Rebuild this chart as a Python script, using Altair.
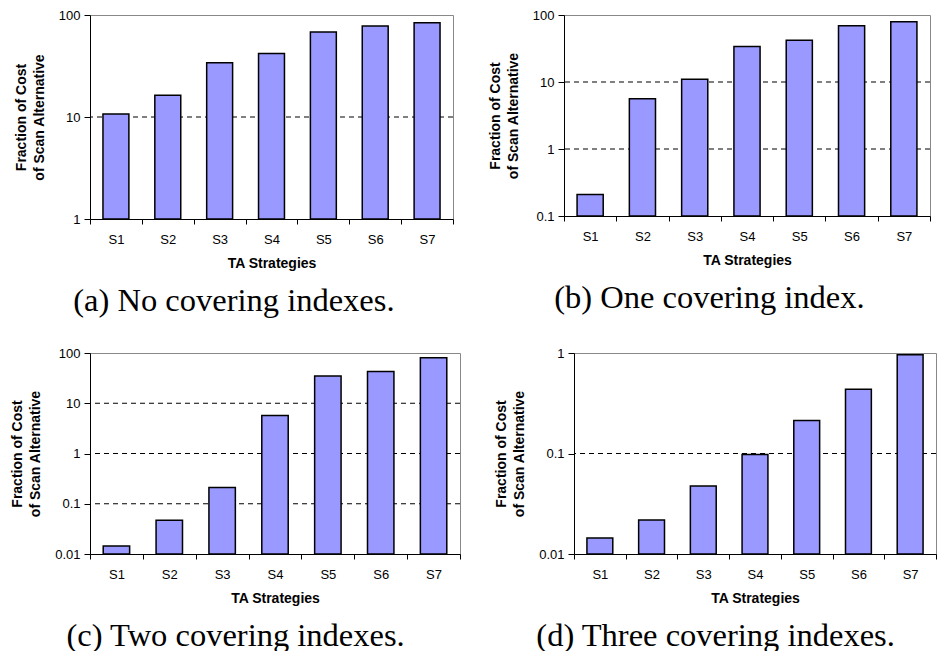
import altair as alt
import pandas as pd

strategies = ["S1", "S2", "S3", "S4", "S5", "S6", "S7"]

vals_a = [10.7, 16.3, 34, 42, 68, 78, 84]
vals_b = [0.21, 5.6, 11, 34, 42, 69, 79]
vals_c = [0.0144, 0.047, 0.21, 5.7, 35, 43, 80]
vals_d = [0.0144, 0.0218, 0.0475, 0.098, 0.213, 0.436, 0.96]

domain_a = [1, 100]
domain_b = [0.1, 100]
domain_c = [0.01, 100]
domain_d = [0.01, 1]

ticks_a = [1, 10, 100]
ticks_b = [0.1, 1, 10, 100]
ticks_c = [0.01, 0.1, 1, 10, 100]
ticks_d = [0.01, 0.1, 1]

grid_a = [10]
grid_b = [1, 10]
grid_c = [0.1, 1, 10]
grid_d = [0.1]

captions = ["(a) No covering indexes.", "(b) One covering index.",
            "(c) Two covering indexes.", "(d) Three covering indexes."]

y_title = ["Fraction of Cost", "of Scan Alternative"]
x_title = "TA Strategies"


def panel(vals, domain, ticks, grids, caption, W, H):
    lo, hi = domain
    yscale = alt.Scale(type="log", domain=domain, nice=False)
    yaxis = alt.Axis(values=ticks, format="~g", title=y_title, grid=False,
                     titleLineHeight=18, titlePadding=12)
    bars_df = pd.DataFrame({"s": strategies, "v": vals})
    grid_df = pd.DataFrame({"v": grids})
    gridlines = alt.Chart(grid_df).mark_rule(
        color="black", strokeDash=[5, 4], strokeWidth=1
    ).encode(y=alt.Y("v:Q", scale=yscale, axis=yaxis))
    bars = alt.Chart(bars_df).mark_bar(
        width=alt.RelativeBandSize(0.5), fill="#9999FF", stroke="black",
        strokeWidth=1.5
    ).encode(
        x=alt.X("s:N", sort=strategies,
                scale=alt.Scale(paddingInner=0, paddingOuter=0),
                axis=alt.Axis(title=x_title, tickBand="extent", labelAngle=0,
                              labelPadding=9, titlePadding=10)),
        y=alt.Y("v:Q", scale=yscale, axis=yaxis),
        y2=alt.datum(lo),
    )
    return alt.layer(gridlines, bars).properties(
        width=W, height=H,
        title=alt.TitleParams(text=caption, orient="bottom", anchor="middle",
                              frame="bounds", font="Liberation Serif",
                              fontSize=32.5, fontWeight="normal", color="black",
                              offset=15),
    )


pa = panel(vals_a, domain_a, ticks_a, grid_a, captions[0], 363, 204)
pb = panel(vals_b, domain_b, ticks_b, grid_b, captions[1], 366, 201)
pc = panel(vals_c, domain_c, ticks_c, grid_c, captions[2], 370, 201)
pd_ = panel(vals_d, domain_d, ticks_d, grid_d, captions[3], 362, 201)

row1 = alt.hconcat(pa, pb, spacing=33)
row2 = alt.hconcat(pc, pd_, spacing=33)

chart = alt.vconcat(row1, row2, spacing=28).properties(
    padding={"left": 10, "top": 8, "right": 0, "bottom": 0},
    background="white",
).configure_view(
    stroke="#888888", strokeWidth=1
).configure_axis(
    labelFont="Liberation Sans", labelFontSize=13, labelColor="black",
    titleFont="Liberation Sans", titleFontSize=14, titleFontWeight="bold",
    titleColor="black", domainColor="black", domainWidth=1,
    tickColor="black", tickSize=5, tickWidth=1,
).configure_axisY(
    labelPadding=4, tickSize=6,
)

chart.save("out.html", embed_options={"renderer": "svg", "actions": False})
